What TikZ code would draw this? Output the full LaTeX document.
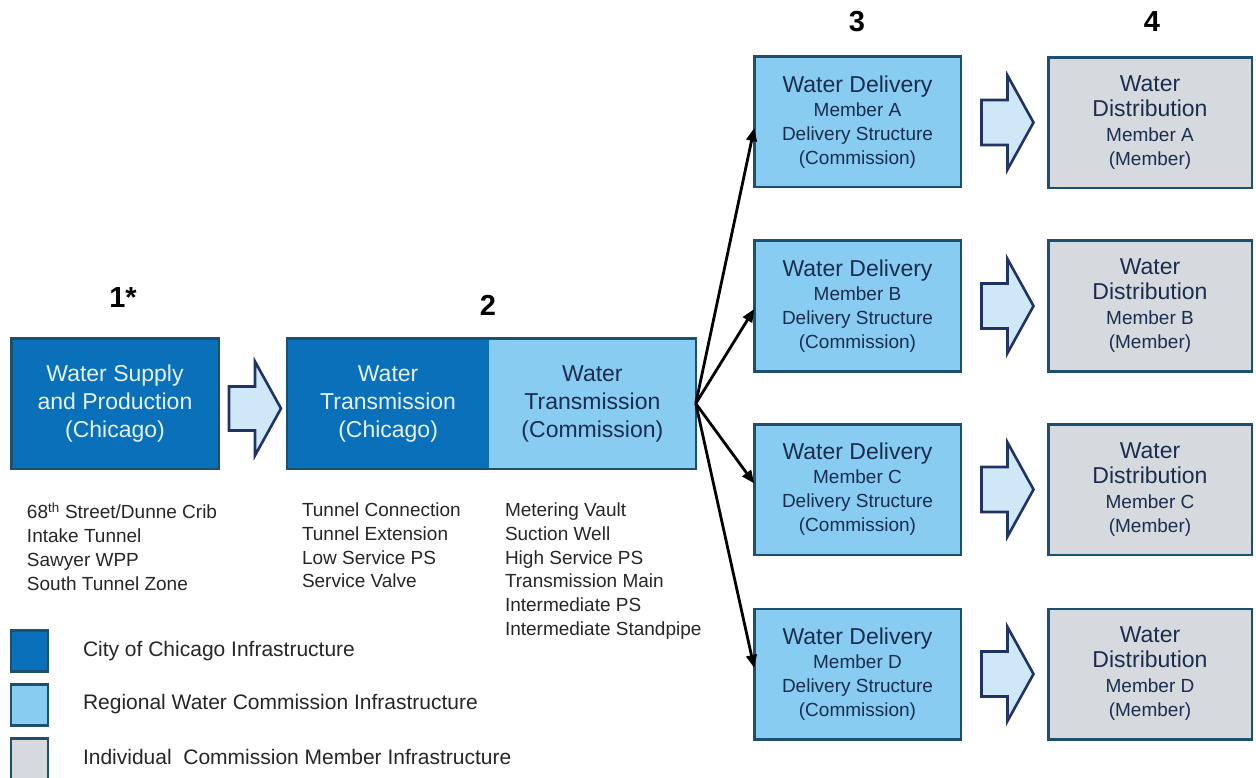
\documentclass[tikz,border=0pt]{standalone}
\usepackage{fontspec}
\setmainfont{Liberation Sans}
\usetikzlibrary{arrows.meta,calc}

\definecolor{chicago}{HTML}{0B70BA}
\definecolor{commission}{HTML}{88CCF2}
\definecolor{member}{HTML}{D6DADF}
\definecolor{edgeblue}{HTML}{1D4F6E}
\definecolor{navytext}{HTML}{1B2D4F}
\definecolor{paletext}{HTML}{E4F2FC}
\definecolor{arrowfill}{HTML}{CFE8F8}
\definecolor{arrowline}{HTML}{1F3464}

\begin{document}
\begin{tikzpicture}[x=1pt,y=-1pt,
  every node/.style={inner sep=0pt, outer sep=0pt},
  boxbase/.style={draw=edgeblue, line width=2.5pt, minimum height=130.5pt, align=center},
  chibox/.style={boxbase, fill=chicago, text=paletext},
  combox/.style={boxbase, fill=commission, text=navytext},
  membox/.style={boxbase, fill=member, text=navytext},
  headfont/.style={font=\fontsize{23}{28}\selectfont},
  subfont/.style={font=\fontsize{19}{24}\selectfont},
  stage/.style={font=\bfseries\fontsize{29}{32}\selectfont, text=black},
  listtext/.style={anchor=north west, align=left, font=\fontsize{19}{23.7}\selectfont, text=black!85},
  legendtext/.style={anchor=west, font=\fontsize{21}{24}\selectfont, text=black!85},
  legendkey/.style={draw=edgeblue, line width=2.5pt, minimum width=37pt, minimum height=41pt},
  feed/.style={line width=2.8pt, -{Triangle[length=13pt,width=10.5pt]}},
  hollow/.style={draw=arrowline, fill=arrowfill, line width=2.6pt, line join=miter},
  pics/blockarrow/.style n args={3}{code={
    \draw[hollow] (-#1/2,-#2) -- (0,-#2) -- (0,-#3) -- (#1/2,0) -- (0,#3) -- (0,#2) -- (-#1/2,#2) -- cycle;}}
]
\useasboundingbox (0,0) rectangle (1256,778);

% stage numbers
\node[stage] (n1) at (123,298) {1*};
\node[stage] (n2) at (488,305) {2};
\node[stage] (n3) at (857,22) {3};
\node[stage] (n4) at (1152,22) {4};

% stage 1: supply
\node[chibox, headfont, minimum width=207.5pt] (sup) at (115,403.5)
  {Water Supply\\and Production\\(Chicago)};

% stage 2: transmission, two halves in one frame
\node[fill=chicago, text=paletext, headfont, align=center,
      minimum width=201.75pt, minimum height=130.5pt] (tL) at (388.1,403.5)
  {Water\\Transmission\\(Chicago)};
\node[fill=commission, text=navytext, headfont, align=center,
      minimum width=206.75pt, minimum height=130.5pt] (tR) at (592.4,403.5)
  {Water\\Transmission\\(Commission)};
\draw[draw=edgeblue, line width=2.5pt] (tL.north west) rectangle (tR.south east);

\pic at ($(sup.east)!0.5!(tL.west)+(2,5)$) {blockarrow={52}{22}{47}};

% stage 3: delivery structures
\foreach \m/\y in {A/122,B/306,C/489.5,D/674}{
  \node[combox, subfont, minimum width=206.5pt] (d\m) at (857.5,\y)
    {{\fontsize{23}{24}\selectfont Water Delivery}\\Member \m\\Delivery Structure\\(Commission)};
}

% stage 4: member distribution
\foreach \m/\y in {A/123,B/306,C/489.5,D/674}{
  \node[membox, subfont, minimum width=203.5pt] (s\m) at (1150,\y)
    {{\fontsize{23}{24}\selectfont Water}\\[1pt]{\fontsize{23}{24}\selectfont Distribution}\\[1pt]Member \m\\(Member)};
}

\foreach \m in {A,B,C,D}{
  \pic at ($(d\m.east)!0.5!(s\m.west)+(3,0)$) {blockarrow={52}{22.5}{47}};
}

% transmission feeds each delivery structure
\draw[feed] (tR.east) -- ([yshift=-6pt]dA.west);
\draw[feed] (tR.east) -- ([yshift=-3pt]dB.west);
\draw[feed] (tR.east) -- ([yshift=6pt]dC.west);
\draw[feed] (tR.east) -- ([yshift=6pt]dD.west);

% component lists
\node[listtext] (l1) at (27,503)
  {68\textsuperscript{th} Street/Dunne Crib\\Intake Tunnel\\Sawyer WPP\\South Tunnel Zone};
\node[listtext] (l2) at (302,503)
  {Tunnel Connection\\Tunnel Extension\\Low Service PS\\Service Valve};
\node[listtext] (l3) at (505,503)
  {Metering Vault\\Suction Well\\High Service PS\\Transmission Main\\Intermediate PS\\Intermediate Standpipe};

% legend
\node[legendkey, fill=chicago] (k1) at (29.5,651) {};
\node[legendkey, fill=commission] (k2) at (29.5,705) {};
\node[legendkey, fill=member] (k3) at (29.5,759) {};
\node[legendtext] (t1) at (83,651) {City of Chicago Infrastructure};
\node[legendtext] (t2) at (83,704) {Regional Water Commission Infrastructure};
\node[legendtext] (t3) at (83,757) {Individual\ \ Commission Member Infrastructure};
\end{tikzpicture}
\end{document}
